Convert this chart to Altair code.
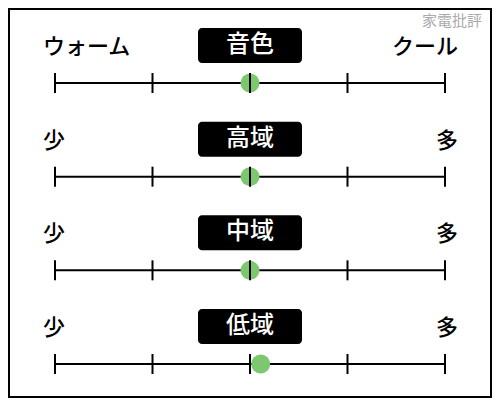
import altair as alt
import pandas as pd

# --- data ---
rows = ["音色", "高域", "中域", "低域"]
left_labels = ["ウォーム", "少", "少", "少"]
right_labels = ["クール", "多", "多", "多"]
values = [0.0, 0.0, 0.0, 0.11]
tick_values = [-2, -1, 0, 1, 2]
watermark = "家電批評"

FONT = "Noto Sans CJK JP"

df = pd.DataFrame({
    "idx": list(range(len(rows))),
    "name": rows,
    "left": left_labels,
    "right": right_labels,
    "value": values,
    "lo": [tick_values[0]] * len(rows),
    "hi": [tick_values[-1]] * len(rows),
    "center": [0] * len(rows),
})
ticks = pd.DataFrame(
    [{"idx": i, "t": t} for i in range(len(rows)) for t in tick_values]
)

xs = alt.Scale(domain=[tick_values[0], tick_values[-1]], range=[47, 437])
ys = alt.Scale(domain=[0, len(rows) - 1], range=[75, 356])

X = lambda f: alt.X(f, type="quantitative", scale=xs, axis=None)
Y = lambda f: alt.Y(f, type="quantitative", scale=ys, axis=None)

base = alt.Chart(df)

line = base.mark_rule(color="black", strokeWidth=2).encode(
    x=X("lo"), x2="hi", y=Y("idx")
)
dots = base.mark_circle(size=360, color="#7dc86e", opacity=1).encode(
    x=X("value"), y=Y("idx")
)
tick_marks = alt.Chart(ticks).mark_rule(
    color="black", strokeWidth=2, yOffset=-10, y2Offset=10
).encode(x=X("t"), y=Y("idx"), y2="idx")

box = base.mark_rect(
    color="black", cornerRadius=4, xOffset=-52, x2Offset=52, yOffset=-55, y2Offset=-20
).encode(x=X("center"), x2="center", y=Y("idx"), y2="idx")

box_text = base.mark_text(
    color="white", font=FONT, fontSize=24, fontWeight=500, dy=-38, baseline="middle"
).encode(x=X("center"), y=Y("idx"), text="name")

left_text = base.mark_text(
    color="black", font=FONT, fontSize=22, fontWeight=500, dy=-36, dx=-12,
    align="left", baseline="middle"
).encode(x=X("lo"), y=Y("idx"), text="left")

right_text = base.mark_text(
    color="black", font=FONT, fontSize=22, fontWeight=500, dy=-36, dx=13,
    align="right", baseline="middle"
).encode(x=X("hi"), y=Y("idx"), text="right")

wm = alt.Chart(pd.DataFrame({"w": [watermark]})).mark_text(
    color="#aaaaaa", font=FONT, fontSize=15, align="right", baseline="middle"
).encode(x=alt.value(474), y=alt.value(13), text="w")

chart = alt.layer(
    line, dots, tick_marks, box, box_text, left_text, right_text, wm
).properties(
    width=484, height=390, padding=0, autosize="none"
).configure_view(
    stroke="black", strokeWidth=4
)

chart.save("out.html", embed_options={"renderer": "svg", "actions": False})
